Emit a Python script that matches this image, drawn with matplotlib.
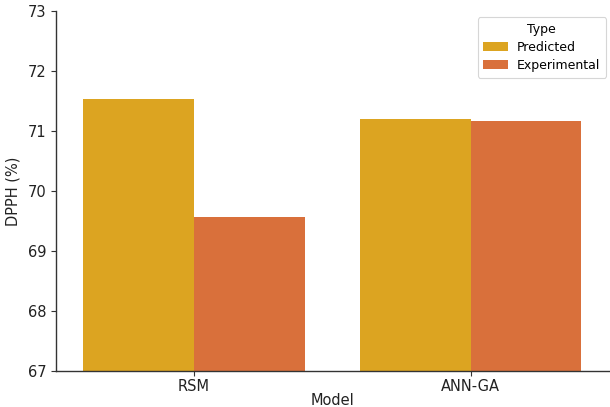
import matplotlib
matplotlib.use("Agg")
import matplotlib.pyplot as plt
import numpy as np

models = ["RSM", "ANN-GA"]
types = ["Predicted", "Experimental"]
predicted = [71.53, 71.21]
experimental = [69.56, 71.17]
colors = {"Predicted": "#DCA421", "Experimental": "#D9703B"}

plt.rcParams["font.family"] = ["DejaVu Sans"]

fig = plt.figure(figsize=(6.10, 4.07), dpi=100)
ax = fig.add_axes([0.0913, 0.0885, 0.907, 0.884])

x = np.arange(len(models))
w = 0.4
ax.bar(x - w / 2, predicted, width=w, bottom=0, color=colors["Predicted"], label="Predicted")
ax.bar(x + w / 2, experimental, width=w, bottom=0, color=colors["Experimental"], label="Experimental")

ax.set_ylim(67, 73)
ax.set_xlim(-0.5, 1.5)
ax.set_xticks(x)
ax.set_xticklabels(models)
ax.set_yticks([67, 68, 69, 70, 71, 72, 73])
ax.tick_params(axis="both", labelsize=10.5, length=3.5, width=0.8, colors="#333333", labelcolor="#222222")
ax.tick_params(axis="x", pad=2)
ax.tick_params(axis="y", pad=3)
ax.set_xlabel("Model", fontsize=10.5, color="#222222", labelpad=-0.5)
ax.set_ylabel("DPPH (%)", fontsize=10.5, color="#222222", labelpad=5)

for s in ["top", "right"]:
    ax.spines[s].set_visible(False)
for s in ["left", "bottom"]:
    ax.spines[s].set_color("#333333")
    ax.spines[s].set_linewidth(1.0)

leg = ax.legend(title="Type", loc="upper right", bbox_to_anchor=(1.006, 1.0),
                fontsize=9, title_fontsize=9, frameon=True, borderpad=0.45,
                handlelength=2.0, handletextpad=0.7, labelspacing=0.4)
leg.get_frame().set_edgecolor("#cccccc")
leg.get_frame().set_linewidth(0.8)

fig.savefig("out.png", dpi=100)
